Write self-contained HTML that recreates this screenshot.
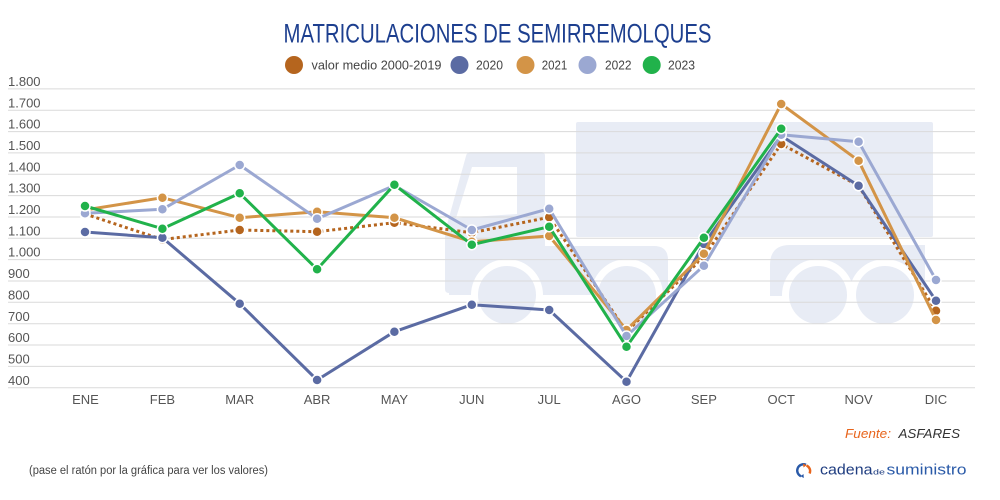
<!DOCTYPE html>
<html><head><meta charset="utf-8"><style>
html,body{margin:0;padding:0;background:#fff;width:1000px;height:500px;overflow:hidden}
svg{display:block}
text{font-family:"Liberation Sans",sans-serif}
</style></head><body>
<svg width="1000" height="500" viewBox="0 0 1000 500" xmlns="http://www.w3.org/2000/svg">
<rect width="1000" height="500" fill="#fff"/>
<!-- title -->
<text x="283.5" y="42.7" font-size="27" fill="#1d3f8f" textLength="428" lengthAdjust="spacingAndGlyphs">MATRICULACIONES DE SEMIRREMOLQUES</text>
<!-- legend -->
<g font-size="13" fill="#444">
<circle cx="294" cy="65" r="9" fill="#b5651e"/>
<text x="311.5" y="69.5" textLength="130" lengthAdjust="spacingAndGlyphs">valor medio 2000-2019</text>
<circle cx="459.5" cy="65" r="9" fill="#5b6ba3"/>
<text x="476" y="69.5" textLength="27" lengthAdjust="spacingAndGlyphs">2020</text>
<circle cx="525.5" cy="65" r="9" fill="#d39447"/>
<text x="541.7" y="69.5" textLength="25.5" lengthAdjust="spacingAndGlyphs">2021</text>
<circle cx="587.5" cy="65" r="9" fill="#9ba8d2"/>
<text x="605" y="69.5" textLength="26.5" lengthAdjust="spacingAndGlyphs">2022</text>
<circle cx="651.7" cy="65" r="9" fill="#21b24b"/>
<text x="668" y="69.5" textLength="27" lengthAdjust="spacingAndGlyphs">2023</text>
</g>
<!-- truck background -->
<g fill="#e8ecf5">
<path d="M449,293 Q445,293 445,289 L445,232 L466,156 Q467,152 471,152 L541,152 Q545,152 545,156 L545,246 L654,246 Q668,246 668,260 L668,295 L449,295 Z"/>
<rect x="576" y="122" width="357" height="115" rx="2"/>
<path d="M790,245 L925,245 L925,296 L770,296 L770,265 Q770,245 790,245 Z"/>
</g>
<polygon points="472,167 517,167 517,214 456,218" fill="#fff"/>
<g fill="#fff">
<circle cx="507" cy="295" r="36"/>
<circle cx="627" cy="295" r="36"/>
<circle cx="818" cy="295" r="36"/>
<circle cx="885" cy="295" r="36"/>
<rect x="440" y="297" width="500" height="40"/>
</g>
<g fill="#e8ecf5">
<circle cx="507" cy="295" r="29"/>
<circle cx="627" cy="295" r="29"/>
<circle cx="818" cy="295" r="29"/>
<circle cx="885" cy="295" r="29"/>
</g>
<!-- gridlines -->
<g stroke="#dadada" stroke-width="1">
<line x1="8" x2="975" y1="88.9" y2="88.9"/>
<line x1="8" x2="975" y1="110.2" y2="110.2"/>
<line x1="8" x2="975" y1="131.6" y2="131.6"/>
<line x1="8" x2="975" y1="152.9" y2="152.9"/>
<line x1="8" x2="975" y1="174.3" y2="174.3"/>
<line x1="8" x2="975" y1="195.6" y2="195.6"/>
<line x1="8" x2="975" y1="217.0" y2="217.0"/>
<line x1="8" x2="975" y1="238.3" y2="238.3"/>
<line x1="8" x2="975" y1="259.6" y2="259.6"/>
<line x1="8" x2="975" y1="281.0" y2="281.0"/>
<line x1="8" x2="975" y1="302.3" y2="302.3"/>
<line x1="8" x2="975" y1="323.7" y2="323.7"/>
<line x1="8" x2="975" y1="345.0" y2="345.0"/>
<line x1="8" x2="975" y1="366.4" y2="366.4"/>
<line x1="8" x2="975" y1="387.7" y2="387.7"/>
</g>
<!-- y labels -->
<g font-size="13" fill="#555">
<text x="8" y="86">1.800</text>
<text x="8" y="107.3">1.700</text>
<text x="8" y="128.7">1.600</text>
<text x="8" y="150">1.500</text>
<text x="8" y="171.4">1.400</text>
<text x="8" y="192.7">1.300</text>
<text x="8" y="214.1">1.200</text>
<text x="8" y="235.4">1.100</text>
<text x="8" y="256.7">1.000</text>
<text x="8" y="278.1">900</text>
<text x="8" y="299.4">800</text>
<text x="8" y="320.8">700</text>
<text x="8" y="342.1">600</text>
<text x="8" y="363.5">500</text>
<text x="8" y="384.8">400</text>
</g>
<!-- x labels -->
<g font-size="13" fill="#555" text-anchor="middle">
<text x="85.5" y="404">ENE</text>
<text x="162.4" y="404">FEB</text>
<text x="239.7" y="404">MAR</text>
<text x="317.1" y="404">ABR</text>
<text x="394.4" y="404">MAY</text>
<text x="471.8" y="404">JUN</text>
<text x="549.2" y="404">JUL</text>
<text x="626.5" y="404">AGO</text>
<text x="703.9" y="404">SEP</text>
<text x="781.2" y="404">OCT</text>
<text x="858.6" y="404">NOV</text>
<text x="936" y="404">DIC</text>
</g>
<!-- series: avg -->
<g>
<polyline fill="none" stroke="#b5651e" stroke-width="3" stroke-dasharray="3,3" stroke-linejoin="round" points="85,214 162.4,239.5 239.7,230 317.1,231.7 394.4,222.7 471.8,232.7 549.2,217.3 626.5,331.7 703.9,256.7 781.2,144 858.6,185.7 936,310.7"/>
<g fill="#b5651e" stroke="#fff" stroke-width="1.5">
<circle cx="85" cy="214" r="5"/><circle cx="162.4" cy="239.5" r="5"/><circle cx="239.7" cy="230" r="5"/><circle cx="317.1" cy="231.7" r="5"/><circle cx="394.4" cy="222.7" r="5"/><circle cx="471.8" cy="232.7" r="5"/><circle cx="549.2" cy="217.3" r="5"/><circle cx="626.5" cy="331.7" r="5"/><circle cx="703.9" cy="256.7" r="5"/><circle cx="781.2" cy="144" r="5"/><circle cx="858.6" cy="185.7" r="5"/><circle cx="936" cy="310.7" r="5"/>
</g></g>
<!-- 2020 -->
<g>
<polyline fill="none" stroke="#5b6ba3" stroke-width="3" stroke-linejoin="round" points="85,232 162.4,237.7 239.7,303.7 317.1,380 394.4,331.7 471.8,304.7 549.2,310 626.5,381.7 703.9,244 781.2,135.7 858.6,185.7 936,300.7"/>
<g fill="#5b6ba3" stroke="#fff" stroke-width="1.5">
<circle cx="85" cy="232" r="5"/><circle cx="162.4" cy="237.7" r="5"/><circle cx="239.7" cy="303.7" r="5"/><circle cx="317.1" cy="380" r="5"/><circle cx="394.4" cy="331.7" r="5"/><circle cx="471.8" cy="304.7" r="5"/><circle cx="549.2" cy="310" r="5"/><circle cx="626.5" cy="381.7" r="5"/><circle cx="703.9" cy="244" r="5"/><circle cx="781.2" cy="135.7" r="5"/><circle cx="858.6" cy="185.7" r="5"/><circle cx="936" cy="300.7" r="5"/>
</g></g>
<!-- 2021 -->
<g>
<polyline fill="none" stroke="#d39447" stroke-width="3" stroke-linejoin="round" points="85,210 162.4,197.7 239.7,217.7 317.1,211.7 394.4,217.7 471.8,241.7 549.2,236 626.5,330 703.9,253.7 781.2,104 858.6,160.7 936,320"/>
<g fill="#d39447" stroke="#fff" stroke-width="1.5">
<circle cx="85" cy="210" r="5"/><circle cx="162.4" cy="197.7" r="5"/><circle cx="239.7" cy="217.7" r="5"/><circle cx="317.1" cy="211.7" r="5"/><circle cx="394.4" cy="217.7" r="5"/><circle cx="471.8" cy="241.7" r="5"/><circle cx="549.2" cy="236" r="5"/><circle cx="626.5" cy="330" r="5"/><circle cx="703.9" cy="253.7" r="5"/><circle cx="781.2" cy="104" r="5"/><circle cx="858.6" cy="160.7" r="5"/><circle cx="936" cy="320" r="5"/>
</g></g>
<!-- 2022 -->
<g>
<polyline fill="none" stroke="#9ba8d2" stroke-width="3" stroke-linejoin="round" points="85,213.3 162.4,209.3 239.7,165 317.1,218.7 394.4,185.5 471.8,230 549.2,208.7 626.5,336 703.9,265.7 781.2,134.7 858.6,141.7 936,280"/>
<g fill="#9ba8d2" stroke="#fff" stroke-width="1.5">
<circle cx="85" cy="213.3" r="5"/><circle cx="162.4" cy="209.3" r="5"/><circle cx="239.7" cy="165" r="5"/><circle cx="317.1" cy="218.7" r="5"/><circle cx="394.4" cy="185.5" r="5"/><circle cx="471.8" cy="230" r="5"/><circle cx="549.2" cy="208.7" r="5"/><circle cx="626.5" cy="336" r="5"/><circle cx="703.9" cy="265.7" r="5"/><circle cx="781.2" cy="134.7" r="5"/><circle cx="858.6" cy="141.7" r="5"/><circle cx="936" cy="280" r="5"/>
</g></g>
<!-- 2023 -->
<g>
<polyline fill="none" stroke="#21b24b" stroke-width="3" stroke-linejoin="round" points="85,206 162.4,228.7 239.7,193.3 317.1,269.3 394.4,184.7 471.8,244.7 549.2,226.7 626.5,346.7 703.9,237.7 781.2,128.7"/>
<g fill="#21b24b" stroke="#fff" stroke-width="1.5">
<circle cx="85" cy="206" r="5"/><circle cx="162.4" cy="228.7" r="5"/><circle cx="239.7" cy="193.3" r="5"/><circle cx="317.1" cy="269.3" r="5"/><circle cx="394.4" cy="184.7" r="5"/><circle cx="471.8" cy="244.7" r="5"/><circle cx="549.2" cy="226.7" r="5"/><circle cx="626.5" cy="346.7" r="5"/><circle cx="703.9" cy="237.7" r="5"/><circle cx="781.2" cy="128.7" r="5"/>
</g></g>
<!-- footer -->
<text x="845" y="438" font-size="13" font-style="italic" fill="#e8641b" textLength="46" lengthAdjust="spacingAndGlyphs">Fuente:</text>
<text x="898.5" y="438" font-size="13" font-style="italic" fill="#333" textLength="61.5" lengthAdjust="spacingAndGlyphs">ASFARES</text>
<text x="29" y="474" font-size="11.5" fill="#444" textLength="239" lengthAdjust="spacingAndGlyphs">(pase el ratón por la gráfica para ver los valores)</text>
<!-- logo -->
<path d="M806,464.8 A6,6 0 1 0 801,476.3" fill="none" stroke="#2a5aa8" stroke-width="2.4"/>
<path d="M800.5,476.3 L803.5,474 L803.8,478 Z" fill="#2a5aa8"/>
<path d="M806.5,465.5 A6,6 0 0 1 809.6,473.5" fill="none" stroke="#e8641b" stroke-width="2.4"/>
<path d="M806.5,465.2 L803.5,467.5 L803,463.5 Z" fill="#e8641b"/>
<text x="820" y="474.3" font-size="15" fill="#1f3d80" textLength="52.5" lengthAdjust="spacingAndGlyphs">cadena</text>
<text x="873" y="474.3" font-size="7" fill="#1f3d80" textLength="12" lengthAdjust="spacingAndGlyphs">de</text>
<text x="886.5" y="474.3" font-size="15" fill="#2a5aa8" textLength="80" lengthAdjust="spacingAndGlyphs">suministro</text>
</svg>
</body></html>
